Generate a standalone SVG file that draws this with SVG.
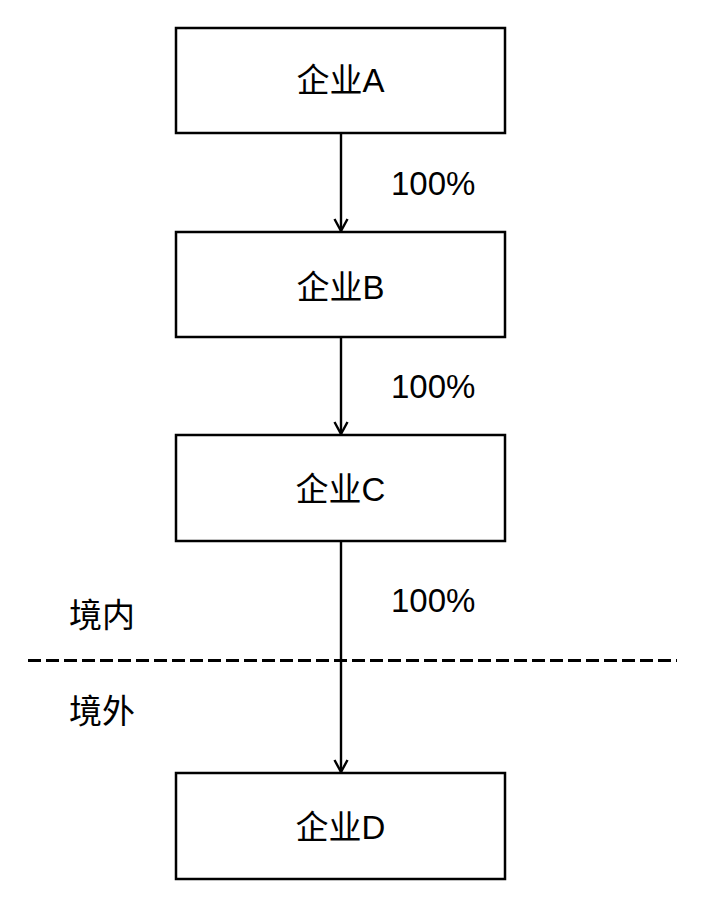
<svg xmlns="http://www.w3.org/2000/svg" width="710" height="912" viewBox="0 0 710 912">
<style>
.box{fill:#fff;stroke:#000;stroke-width:2.5}
.lbl{font-family:"Liberation Sans","Noto Sans CJK SC",sans-serif;font-size:33px;fill:#000}
.edge{stroke:#000;stroke-width:2.4;fill:none}
.pct{font-family:"Liberation Sans",Arial,sans-serif;font-size:33px;fill:#000}
</style>
<defs>
<marker id="arr" markerUnits="userSpaceOnUse" markerWidth="16" markerHeight="18" refX="13" refY="8" orient="auto" viewBox="0 0 16 16">
<polyline points="1,1.5 13,8 1,14.5" fill="none" stroke="#000" stroke-width="2.4"/>
</marker>
</defs>
<rect width="710" height="912" fill="#fff"/>
<g id="connectors">
<line class="edge" x1="341" y1="133" x2="341" y2="231" marker-end="url(#arr)"/>
<line class="edge" x1="341" y1="337" x2="341" y2="434" marker-end="url(#arr)"/>
<line class="edge" x1="341" y1="541" x2="341" y2="772" marker-end="url(#arr)"/>
<text class="pct" x="391" y="195">100%</text>
<text class="pct" x="391" y="398">100%</text>
<text class="pct" x="391" y="612">100%</text>
</g>
<g id="boundary">
<line x1="28" y1="660.5" x2="677" y2="660.5" stroke="#000" stroke-width="3.2" stroke-dasharray="13 5"/>
<text class="lbl" x="69" y="627">境内</text>
<text class="lbl" x="69" y="723">境外</text>
</g>
<g id="nodeA">
<rect class="box" x="176" y="28" width="329" height="105"/>
<text class="lbl" x="340.5" y="92" text-anchor="middle">企业A</text>
</g>
<g id="nodeB">
<rect class="box" x="176" y="232" width="329" height="105"/>
<text class="lbl" x="340.5" y="299" text-anchor="middle">企业B</text>
</g>
<g id="nodeC">
<rect class="box" x="176" y="435" width="329" height="106"/>
<text class="lbl" x="340.5" y="501" text-anchor="middle">企业C</text>
</g>
<g id="nodeD">
<rect class="box" x="176" y="773" width="329" height="106"/>
<text class="lbl" x="340.5" y="839" text-anchor="middle">企业D</text>
</g>
</svg>
